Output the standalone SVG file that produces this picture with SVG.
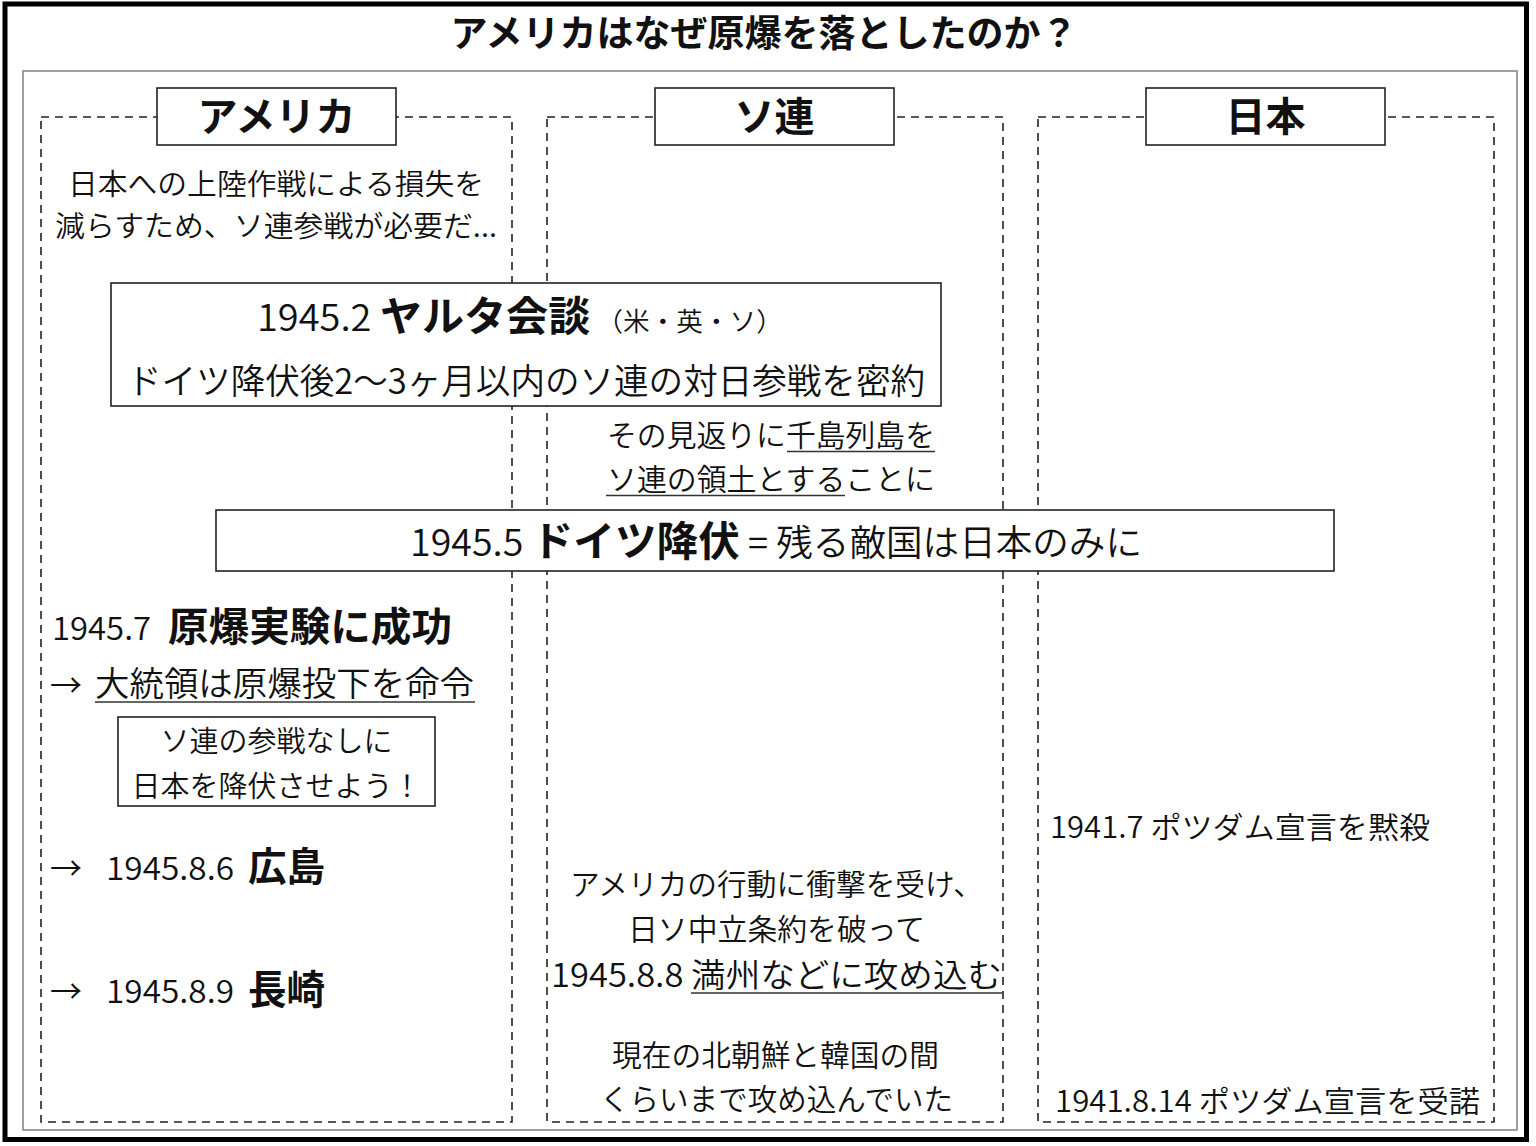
<svg xmlns="http://www.w3.org/2000/svg" width="1536" height="1146" viewBox="0 0 1536 1146">
<style>
text{font-family:"Noto Sans CJK JP","Noto Sans",sans-serif;fill:#111;font-weight:350}
.b{font-weight:700}
.box{fill:#fff;stroke:#222;stroke-width:1.6}
.col{fill:none;stroke:#222;stroke-width:1.6;stroke-dasharray:8 6}
.ul{stroke:#333;stroke-width:1.6}
</style>
<rect x="0" y="0" width="1536" height="1146" fill="#fff"/>
<rect id="frame" x="5" y="4" width="1521.5" height="1135.5" fill="none" stroke="#000" stroke-width="5"/>
<g id="title"><text x="764" y="47" font-size="37" class="b" text-anchor="middle">アメリカはなぜ原爆を落としたのか？</text></g>
<rect id="panel" x="23" y="71" width="1494" height="1059" fill="none" stroke="#888" stroke-width="1.6"/>
<g id="columns">
<rect class="col" x="41" y="117" width="471" height="1005"/>
<rect class="col" x="547" y="117" width="456" height="1005"/>
<rect class="col" x="1038" y="117" width="456" height="1005"/>
</g>
<g id="hdr-america"><rect class="box" x="157" y="88" width="239" height="57"/><text x="276.5" y="131" font-size="40" class="b" text-anchor="middle">アメリカ</text></g>
<g id="hdr-soviet"><rect class="box" x="655" y="88" width="239" height="57"/><text x="774.5" y="131" font-size="40" class="b" text-anchor="middle">ソ連</text></g>
<g id="hdr-japan"><rect class="box" x="1146" y="88" width="239" height="57"/><text x="1265.5" y="131" font-size="40" class="b" text-anchor="middle">日本</text></g>
<g id="us-reason">
<text x="68" y="195" font-size="29" textLength="416" lengthAdjust="spacingAndGlyphs">日本への上陸作戦による損失を</text>
<text x="55" y="237" font-size="29" textLength="442" lengthAdjust="spacingAndGlyphs">減らすため、ソ連参戦が必要だ...</text>
</g>
<g id="yalta">
<rect class="box" x="111" y="283" width="830" height="123"/>
<text x="257" y="331" textLength="526" lengthAdjust="spacingAndGlyphs"><tspan font-size="37">1945.2 </tspan><tspan font-size="41" class="b">ヤルタ会談</tspan><tspan font-size="26"> （米・英・ソ）</tspan></text>
<text x="127" y="394" font-size="35" textLength="798" lengthAdjust="spacingAndGlyphs">ドイツ降伏後2〜3ヶ月以内のソ連の対日参戦を密約</text>
</g>
<g id="kuril">
<text x="607" y="446" font-size="29.5" textLength="328" lengthAdjust="spacingAndGlyphs">その見返りに千島列島を</text>
<text x="607" y="490" font-size="29.5" textLength="328" lengthAdjust="spacingAndGlyphs">ソ連の領土とすることに</text>
<line class="ul" x1="787" y1="451.5" x2="935" y2="451.5"/>
<line class="ul" x1="606" y1="495.5" x2="845" y2="495.5"/>
</g>
<g id="germany">
<rect class="box" x="216" y="510" width="1118" height="61"/>
<text x="410" y="556" textLength="732" lengthAdjust="spacingAndGlyphs"><tspan font-size="37">1945.5 </tspan><tspan font-size="41" class="b">ドイツ降伏</tspan><tspan font-size="36"> = 残る敵国は日本のみに</tspan></text>
</g>
<g id="us-test">
<text x="52" y="640" font-size="32" textLength="99" lengthAdjust="spacingAndGlyphs">1945.7</text>
<text x="168" y="641" font-size="40" class="b" textLength="284" lengthAdjust="spacingAndGlyphs">原爆実験に成功</text>
</g>
<g id="us-order">
<text x="50" y="697" font-size="32">→</text>
<text x="95" y="696" font-size="34" textLength="379" lengthAdjust="spacingAndGlyphs">大統領は原爆投下を命令</text>
<line class="ul" x1="95" y1="702" x2="475" y2="702"/>
</g>
<g id="us-aim">
<rect class="box" x="118" y="717" width="317" height="89"/>
<text x="276.5" y="752" font-size="29" text-anchor="middle">ソ連の参戦なしに</text>
<text x="276.5" y="797" font-size="29" text-anchor="middle">日本を降伏させよう！</text>
</g>
<g id="us-hiroshima">
<text x="50" y="880" font-size="32">→</text>
<text x="106" y="880" font-size="32" textLength="128" lengthAdjust="spacingAndGlyphs">1945.8.6</text>
<text x="248" y="881" font-size="40" class="b" textLength="77" lengthAdjust="spacingAndGlyphs">広島</text>
</g>
<g id="us-nagasaki">
<text x="50" y="1003" font-size="32">→</text>
<text x="106" y="1003" font-size="32" textLength="128" lengthAdjust="spacingAndGlyphs">1945.8.9</text>
<text x="248" y="1004" font-size="40" class="b" textLength="77" lengthAdjust="spacingAndGlyphs">長崎</text>
</g>
<g id="soviet-attack">
<text x="570" y="895" font-size="29.5" textLength="413" lengthAdjust="spacingAndGlyphs">アメリカの行動に衝撃を受け、</text>
<text x="628" y="940" font-size="29.5" textLength="297" lengthAdjust="spacingAndGlyphs">日ソ中立条約を破って</text>
<text x="551" y="987" font-size="33" textLength="451" lengthAdjust="spacingAndGlyphs">1945.8.8 満州などに攻め込む</text>
<line class="ul" x1="691" y1="993" x2="1002" y2="993"/>
</g>
<g id="soviet-extent">
<text x="612" y="1066" font-size="29.5" textLength="327" lengthAdjust="spacingAndGlyphs">現在の北朝鮮と韓国の間</text>
<text x="600" y="1110" font-size="29.5" textLength="353" lengthAdjust="spacingAndGlyphs">くらいまで攻め込んでいた</text>
</g>
<g id="jp-ignore"><text x="1050" y="838" font-size="30" textLength="380" lengthAdjust="spacingAndGlyphs">1941.7 ポツダム宣言を黙殺</text></g>
<g id="jp-accept"><text x="1055" y="1112" font-size="30" textLength="425" lengthAdjust="spacingAndGlyphs">1941.8.14 ポツダム宣言を受諾</text></g>
<g id="connectors"></g>
</svg>
